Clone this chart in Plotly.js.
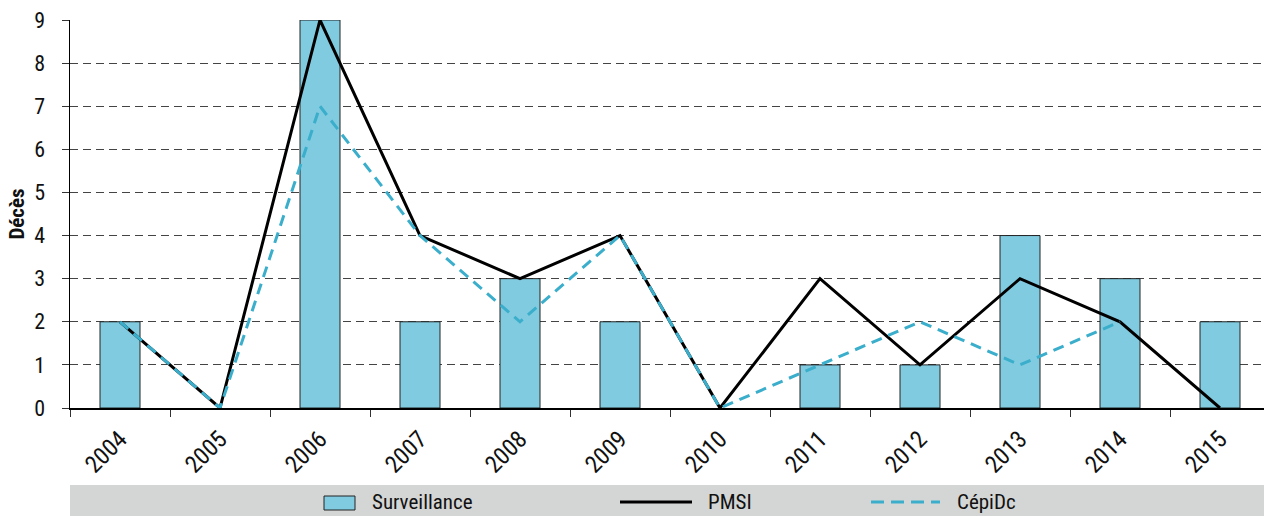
<!DOCTYPE html>
<html>
<head>
<meta charset="utf-8">
<script src="https://cdn.plot.ly/plotly-3.0.1.min.js"></script>
<style>html,body{margin:0;padding:0;background:#fff;}#chart{width:1264px;height:516px;}</style>
</head>
<body>
<div id="chart"></div>
<script>
const years = ["2004","2005","2006","2007","2008","2009","2010","2011","2012","2013","2014","2015"];
const surveillance = [2,0,9,2,3,2,0,1,1,4,3,2];
const pmsi = [2,0,9,4,3,4,0,3,1,3,2,0];
const cepidc = [2,0,7,4,2,4,0,1,2,1,2,null];
const yTicks = [0,1,2,3,4,5,6,7,8,9];
const legendLabels = ["Surveillance","PMSI","CépiDc"];

const FONT = '"Liberation Sans Narrow", "Roboto Condensed", "DejaVu Sans Condensed", Roboto, sans-serif';
const barColor = '#80cbe0';
const cepiColor = '#3aaecb';

const traces = [
  {type:'bar', x:years, y:surveillance, name:legendLabels[0], width:0.4,
   marker:{color:barColor, line:{color:'#222', width:surveillance.map(v => v > 0 ? 1 : 0)}},
   showlegend:false, hoverinfo:'x+y'},
  {type:'scatter', mode:'lines', x:years, y:pmsi, name:legendLabels[1],
   line:{color:'#000', width:3}, showlegend:false},
  {type:'scatter', mode:'lines', x:years, y:cepidc, name:legendLabels[2],
   line:{color:cepiColor, width:3, dash:'11px,7px'}, showlegend:false, connectgaps:false}
];

// legend drawn in paper coordinates below the plot
const L = 70, R = 1264, T = 20, B = 408;
const px = v => (v - L) / (R - L);
const py = v => (B - v) / (B - T);

const shapes = [
  {type:'rect', xref:'paper', yref:'paper', x0:px(70), x1:px(1264), y0:py(516), y1:py(485),
   fillcolor:'#d4d6d5', line:{width:0}, layer:'below'},
  {type:'rect', xref:'paper', yref:'paper', x0:px(324), x1:px(355), y0:py(510), y1:py(496),
   fillcolor:barColor, line:{color:'#222', width:1}},
  {type:'line', xref:'paper', yref:'paper', x0:px(620), x1:px(692), y0:py(502), y1:py(502),
   line:{color:'#000', width:3}},
  {type:'line', xref:'paper', yref:'paper', x0:px(871), x1:px(940), y0:py(502), y1:py(502),
   line:{color:cepiColor, width:3, dash:'13px,7px'}}
];
const legendX = [370, 706, 955];
const annotations = legendLabels.map((t,i) => ({
  xref:'paper', yref:'paper', x:px(legendX[i]), y:py(502), xanchor:'left', yanchor:'middle',
  text:t, showarrow:false, font:{family:FONT, size:21, color:'#111'}
}));

const layout = {
  width:1264, height:516,
  margin:{l:70, r:0, t:20, b:108, pad:0},
  paper_bgcolor:'#fff', plot_bgcolor:'#fff',
  font:{family:FONT, size:20, color:'#111'},
  xaxis:{type:'category', range:[-0.5, 11.44], tickson:'boundaries', ticks:'outside', ticklen:7,
    tickcolor:'#333', tickwidth:1, tickangle:-45, showgrid:false, showline:true, linecolor:'#000',
    linewidth:1.5, tickfont:{family:FONT, size:24, color:'#111'}, ticklabelstandoff:6,
    zeroline:false, fixedrange:true},
  yaxis:{range:[0,9], tickvals:yTicks, ticktext:yTicks.map(String), ticks:'outside', ticklen:7,
    tickcolor:'#333', showline:true, linecolor:'#000', linewidth:1.5, showgrid:true,
    gridcolor:'#444', gridwidth:1, griddash:'8px,5px', zeroline:false, ticklabelstandoff:12,
    tickfont:{family:FONT, size:22, color:'#111'},
    title:{text:'<b>Décès</b>', font:{family:FONT, size:21, color:'#111'}, standoff:4}, fixedrange:true},
  shapes:shapes,
  annotations:annotations,
  showlegend:false
};

Plotly.newPlot('chart', traces, layout, {displayModeBar:false, staticPlot:true});
</script>
</body>
</html>
